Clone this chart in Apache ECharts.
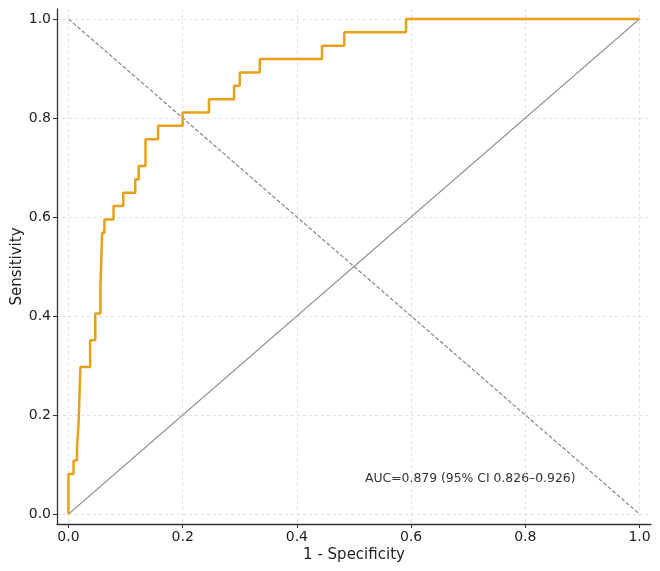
<!DOCTYPE html>
<html>
<head>
<meta charset="utf-8">
<script src="https://cdn.jsdelivr.net/npm/echarts@6/dist/echarts.min.js"></script>
<style>
  html, body { margin: 0; padding: 0; background: #fff; }
  #chart { width: 660px; height: 571px; }
</style>
</head>
<body>
<div id="chart"></div>
<script>
  // ROC curve vertices: each point is the top of a vertical step
  var fpr = [0, 0, 0.009, 0.015, 0.018, 0.021, 0.038, 0.047, 0.056, 0.059, 0.063, 0.079, 0.096, 0.117, 0.123, 0.135, 0.157, 0.200, 0.246, 0.290, 0.300, 0.335, 0.444, 0.483, 0.591, 1.0];
  var tpr = [0, 0.081, 0.108, 0.135, 0.189, 0.297, 0.351, 0.405, 0.459, 0.568, 0.595, 0.622, 0.649, 0.676, 0.703, 0.757, 0.784, 0.811, 0.838, 0.865, 0.892, 0.919, 0.946, 0.973, 1.0, 1.0];

  // reference lines
  var chanceX = [0, 1];
  var chanceY = [0, 1];
  var crossX = [0, 1];
  var crossY = [1, 0];

  var tickValues = [0, 0.2, 0.4, 0.6, 0.8, 1.0];
  var aucText = 'AUC=0.879 (95% CI 0.826–0.926)';

  function pairs(xs, ys) {
    return xs.map(function (x, i) { return [x, ys[i]]; });
  }

  // staircase: move right at previous tpr, then up
  function stairs(xs, ys) {
    var out = [[xs[0], ys[0]]];
    for (var i = 1; i < xs.length; i++) {
      out.push([xs[i], ys[i - 1]]);
      out.push([xs[i], ys[i]]);
    }
    return out;
  }

  var font = 'DejaVu Sans';
  var axisCommon = {
    type: 'value',
    min: -0.02,
    max: 1.02,
    nameLocation: 'middle',
    nameMoveOverlap: false,
    nameTextStyle: { fontFamily: font, fontSize: 15, color: '#222' },
    axisLine: { show: true, onZero: false, lineStyle: { color: '#333', width: 1.3 } },
    axisTick: { show: true, inside: false, length: 4, customValues: tickValues, lineStyle: { color: '#333', width: 1 } },
    axisLabel: {
      customValues: tickValues,
      fontFamily: font, fontSize: 14, color: '#222', margin: 6,
      formatter: function (v) { return v.toFixed(1); }
    },
    splitLine: { show: true, lineStyle: { color: '#d8d8d8', type: [3, 3], width: 0.8 } }
  };

  var chart = echarts.init(document.getElementById('chart'));
  chart.setOption({
    animation: false,
    backgroundColor: '#fff',
    grid: { left: 57, right: 9, top: 9, bottom: 47, containLabel: false, outerBoundsMode: 'none' },
    xAxis: Object.assign({}, axisCommon, {
      name: '1 - Specificity',
      nameGap: 24
    }),
    yAxis: Object.assign({}, axisCommon, {
      name: 'Sensitivity',
      nameGap: 32
    }),
    graphic: [{
      type: 'text',
      left: 365,
      top: 473,
      style: { text: aucText, fontFamily: font, fontSize: 12.4, fill: '#333' }
    }],
    series: [
      {
        name: 'chance',
        type: 'line',
        data: pairs(chanceX, chanceY),
        symbol: 'none',
        lineStyle: { color: '#858585', width: 1.2 },
        z: 2
      },
      {
        name: 'cross',
        type: 'line',
        data: pairs(crossX, crossY),
        symbol: 'none',
        lineStyle: { color: '#858585', width: 1.2, type: [4, 2] },
        z: 2
      },
      {
        name: 'ROC',
        type: 'line',
        data: stairs(fpr, tpr),
        symbol: 'none',
        lineStyle: { color: '#e6a117', width: 2.5 },
        z: 3
      }
    ]
  });
</script>
</body>
</html>
